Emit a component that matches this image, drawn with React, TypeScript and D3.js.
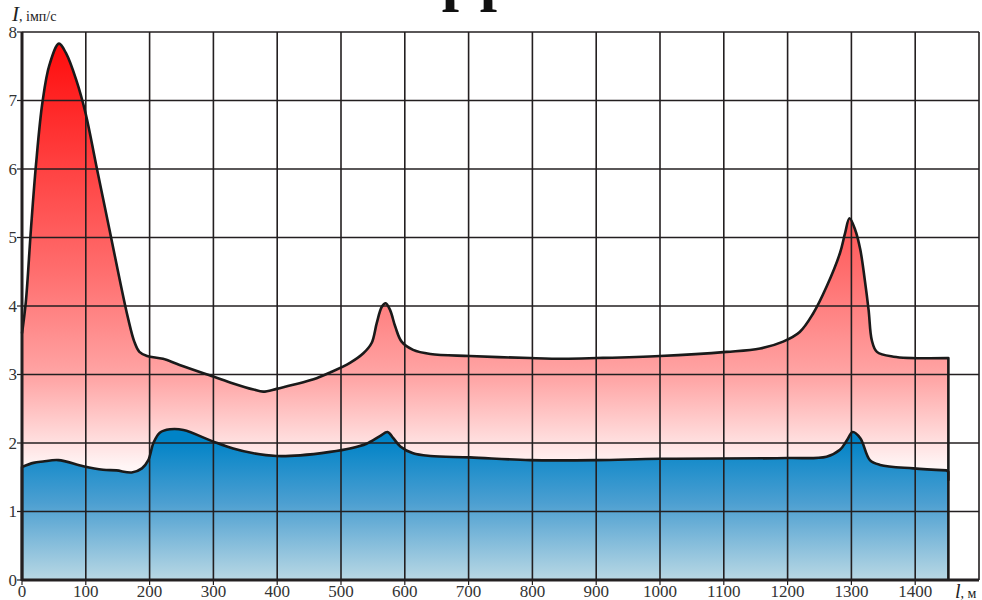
import React from "react";
import * as d3 from "d3";

const xTicks = [0, 100, 200, 300, 400, 500, 600, 700, 800, 900, 1000, 1100, 1200, 1300, 1400];
const yTicks = [0, 1, 2, 3, 4, 5, 6, 7, 8];

// Upper (red) profile: [distance m, intensity imp/s]
const redX = [0, 6, 14, 22, 32, 43, 58, 69, 85, 100, 116, 137, 153, 166, 176, 184, 196, 221, 247, 300, 331, 363, 378, 399, 425, 457, 483, 514, 535, 548, 556, 564, 570, 577, 585, 595, 613, 640, 702, 796, 849, 901, 1000, 1104, 1157, 1193, 1219, 1240, 1261, 1282, 1290, 1297, 1306, 1314, 1321, 1327, 1332, 1340, 1366, 1450];
const redY = [3.6, 4.06, 5.12, 6.07, 6.97, 7.52, 7.83, 7.69, 7.3, 6.8, 6.07, 5.12, 4.39, 3.83, 3.48, 3.33, 3.27, 3.23, 3.14, 2.97, 2.87, 2.78, 2.75, 2.79, 2.85, 2.93, 3.03, 3.17, 3.31, 3.46, 3.75, 3.99, 4.04, 3.94, 3.7, 3.48, 3.36, 3.3, 3.27, 3.24, 3.23, 3.24, 3.27, 3.33, 3.38, 3.48, 3.62, 3.89, 4.28, 4.77, 5.06, 5.28, 5.11, 4.82, 4.38, 3.94, 3.5, 3.33, 3.26, 3.24];

// Lower (blue) profile
const blueX = [0, 18, 33, 57, 96, 127, 148, 172, 188, 198, 206, 216, 232, 253, 300, 331, 363, 399, 436, 483, 514, 540, 561, 573, 582, 593, 613, 640, 702, 796, 901, 1000, 1199, 1261, 1282, 1293, 1302, 1314, 1329, 1345, 1397, 1449];
const blueY = [1.65, 1.71, 1.73, 1.75, 1.66, 1.61, 1.6, 1.57, 1.63, 1.75, 2.0, 2.15, 2.2, 2.19, 2.02, 1.92, 1.85, 1.81, 1.82, 1.87, 1.92, 1.99, 2.1, 2.16, 2.07, 1.95, 1.85, 1.81, 1.79, 1.75, 1.75, 1.77, 1.78, 1.8, 1.9, 2.04, 2.16, 2.07, 1.75, 1.68, 1.63, 1.6];

const W = 982;
const H = 600;

export default function App() {
  const x = d3.scaleLinear().domain([0, 1500]).range([22, 979]);
  const y = d3.scaleLinear().domain([0, 8]).range([580, 32]);

  const red: [number, number][] = redX.map((v, i) => [v, redY[i]]);
  const blue: [number, number][] = blueX.map((v, i) => [v, blueY[i]]);
  const endX = 1452;

  const area = d3
    .area<[number, number]>()
    .x((d) => x(d[0]))
    .y0(y(0))
    .y1((d) => y(d[1]))
    .curve(d3.curveCatmullRom.alpha(0.5));
  const line = d3
    .line<[number, number]>()
    .x((d) => x(d[0]))
    .y((d) => y(d[1]))
    .curve(d3.curveCatmullRom.alpha(0.5));

  const redLast = red[red.length - 1];
  const blueLast = blue[blue.length - 1];
  const redOutline =
    line(red)! +
    `L${x(endX)},${y(redLast[1])}L${x(endX)},${y(0)}`;
  const blueOutline =
    `M${x(0)},${y(0)}L${x(blue[0][0])},${y(blue[0][1])}` +
    line(blue)!.replace(/^M/, "L") +
    `L${x(endX)},${y(blueLast[1] - 0.02)}L${x(endX)},${y(1.45)}`;
  const redFill = area([...red, [endX, redLast[1]]])!;
  const blueFill = area([...blue, [endX, blueLast[1] - 0.02]])!;

  const serif = "'Liberation Serif', 'Times New Roman', serif";

  return (
    <svg width={W} height={H} style={{ position: "absolute", left: 0, top: 0, background: "#fff" }}>
      <defs>
        <linearGradient id="redGrad" gradientUnits="userSpaceOnUse" x1="0" x2="0" y1={y(7.9)} y2={y(1.65)}>
          <stop offset="0" stopColor="#ff0a0a" />
          <stop offset="0.55" stopColor="#ff6f6f" />
          <stop offset="0.8" stopColor="#ffa8a8" />
          <stop offset="1" stopColor="#fff6f6" />
        </linearGradient>
        <linearGradient id="blueGrad" gradientUnits="userSpaceOnUse" x1="0" x2="0" y1={y(2.05)} y2={y(0)}>
          <stop offset="0" stopColor="#0083c7" />
          <stop offset="0.45" stopColor="#4c9fd1" />
          <stop offset="1" stopColor="#b9d8e4" />
        </linearGradient>
      </defs>

      {/* title fragment, clipped at the top of the image */}
      <text x={459} y={-1} fontFamily={serif} fontWeight="bold" fontSize={62} textAnchor="middle" fill="#111">р</text>
      <text x={497} y={-1} fontFamily={serif} fontWeight="bold" fontSize={62} textAnchor="middle" fill="#111">р</text>

      <path d={redFill} fill="url(#redGrad)" />
      <path d={blueFill} fill="url(#blueGrad)" />

      {/* grid */}
      <g stroke="#231f20" strokeWidth={1.6}>
        {xTicks.concat([1500]).map((t) => (
          <line key={"gx" + t} x1={x(t)} x2={x(t)} y1={y(0)} y2={y(8)} />
        ))}
        {yTicks.map((t) => (
          <line key={"gy" + t} x1={x(0)} x2={x(1500)} y1={y(t)} y2={y(t)} />
        ))}
      </g>

      <path d={redOutline} fill="none" stroke="#1a1a1a" strokeWidth={2.6} strokeLinejoin="round" />
      <path d={blueOutline} fill="none" stroke="#1a1a1a" strokeWidth={2.6} strokeLinejoin="round" />

      {/* axes */}
      <g stroke="#231f20" strokeWidth={3}>
        <line x1={x(0)} x2={x(0)} y1={y(0) + 1} y2={y(8)} />
        <line x1={x(0)} x2={x(1500)} y1={y(0)} y2={y(0)} />
      </g>
      <g stroke="#231f20" strokeWidth={1.2}>
        {yTicks.map((t) => (
          <line key={"ty" + t} x1={x(0) - 5} x2={x(0)} y1={y(t)} y2={y(t)} />
        ))}
        {xTicks.map((t) => (
          <line key={"tx" + t} x1={x(t)} x2={x(t)} y1={y(0)} y2={y(0) + 5} />
        ))}
      </g>

      <g fontFamily={serif} fontSize={17} fill="#333">
        {yTicks.map((t) => (
          <text key={"ly" + t} x={x(0) - 5} y={y(t) + 5.5} textAnchor="end">
            {t}
          </text>
        ))}
        {xTicks.map((t) => (
          <text key={"lx" + t} x={x(t)} y={597} textAnchor="middle">
            {t}
          </text>
        ))}
      </g>

      <text x={12} y={21} fontFamily={serif} fill="#222">
        <tspan fontStyle="italic" fontSize={21}>I</tspan>
        <tspan fontSize={14}>, імп/с</tspan>
      </text>
      <text x={955} y={598} fontFamily={serif} fill="#222">
        <tspan fontStyle="italic" fontSize={20}>l</tspan>
        <tspan fontSize={14}>, м</tspan>
      </text>
    </svg>
  );
}
